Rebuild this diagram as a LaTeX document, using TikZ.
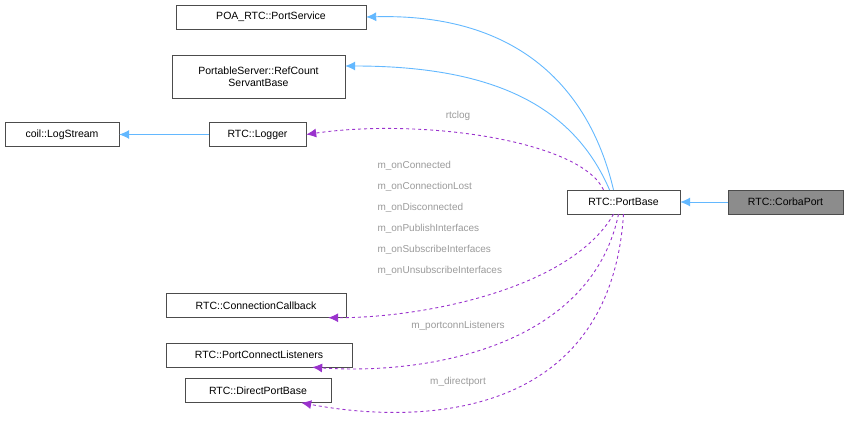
\documentclass[tikz,border=0pt]{standalone}
\usepackage{fontspec}
\setmainfont{Liberation Sans}
\usetikzlibrary{arrows.meta}
\definecolor{inh}{HTML}{63B8FF}
\definecolor{use}{HTML}{9A32CD}
\definecolor{lbl}{HTML}{9A9A9A}
\tikzset{
  cls/.style={draw=black!70,fill=white,minimum height=24pt,inner xsep=6pt,font=\fontsize{10.5}{12.5}\selectfont,align=center},
  inherit/.style={draw=inh,-{Latex[length=10pt,width=9pt]},line width=0.9pt},
  member/.style={draw=use,dashed,-{Latex[length=10pt,width=9pt]},line width=0.9pt},
  mlabel/.style={text=lbl,font=\fontsize{10}{21}\selectfont,align=left}
}
\begin{document}
\begin{tikzpicture}[x=1pt,y=-1pt]
\useasboundingbox (0,0) rectangle (849,431);

\node [cls,minimum width=190pt] (portservice) at (271,17) {POA\_RTC::PortService};
\node [cls,minimum width=173pt,minimum height=43pt] (refcount) at (258.5,76.5) {PortableServer::RefCount\\ServantBase};
\node [cls,minimum width=114pt] (logstream) at (62,134.5) {coil::LogStream};
\node [cls,minimum width=97pt] (logger) at (257.5,134.5) {RTC::Logger};
\node [cls,minimum width=113pt] (portbase) at (623.5,202) {RTC::PortBase};
\node [cls,minimum width=115pt,fill=black!45] (corbaport) at (785.5,202) {RTC::CorbaPort};
\node [cls,minimum width=180pt] (conncb) at (256,305.5) {RTC::ConnectionCallback};
\node [cls,minimum width=186pt] (connlst) at (259,355) {RTC::PortConnectListeners};
\node [cls,minimum width=146pt] (direct) at (258,390.5) {RTC::DirectPortBase};

% inheritance
\draw [inherit] (corbaport) -- (portbase);
\draw [inherit] (logger) -- (logstream);
\draw [inherit] (portbase.north) ++(-10,0) .. controls (590,90) and (520,13) .. (portservice.east);
\draw [inherit] (portbase.north) ++(-14,0) .. controls (575,110) and (500,66) .. (refcount.east |- 0,66);

% members
\draw [member] (portbase.north) ++(-20,0) .. controls (580,140) and (420,118) .. (logger.east);
\draw [member] (portbase.south) ++(-10,0) .. controls (570,290) and (420,318) .. ([xshift=-18pt]conncb.south east);
\draw [member] (portbase.south) ++(-5,0) .. controls (590,350) and (420,375) .. ([xshift=-40pt]connlst.south east);
\draw [member] (portbase.south) ++(0,0) .. controls (610,420) and (420,425) .. ([xshift=-30pt]direct.south east);

\node [mlabel] (lrtclog) at (458,116) {rtclog};
\node [mlabel,anchor=north west] (lcb) at (374,158) {m\_onConnected\\m\_onConnectionLost\\m\_onDisconnected\\m\_onPublishInterfaces\\m\_onSubscribeInterfaces\\m\_onUnsubscribeInterfaces};
\node [mlabel] (lconn) at (458,326) {m\_portconnListeners};
\node [mlabel] (ldirect) at (458,382) {m\_directport};
\end{tikzpicture}
\end{document}
